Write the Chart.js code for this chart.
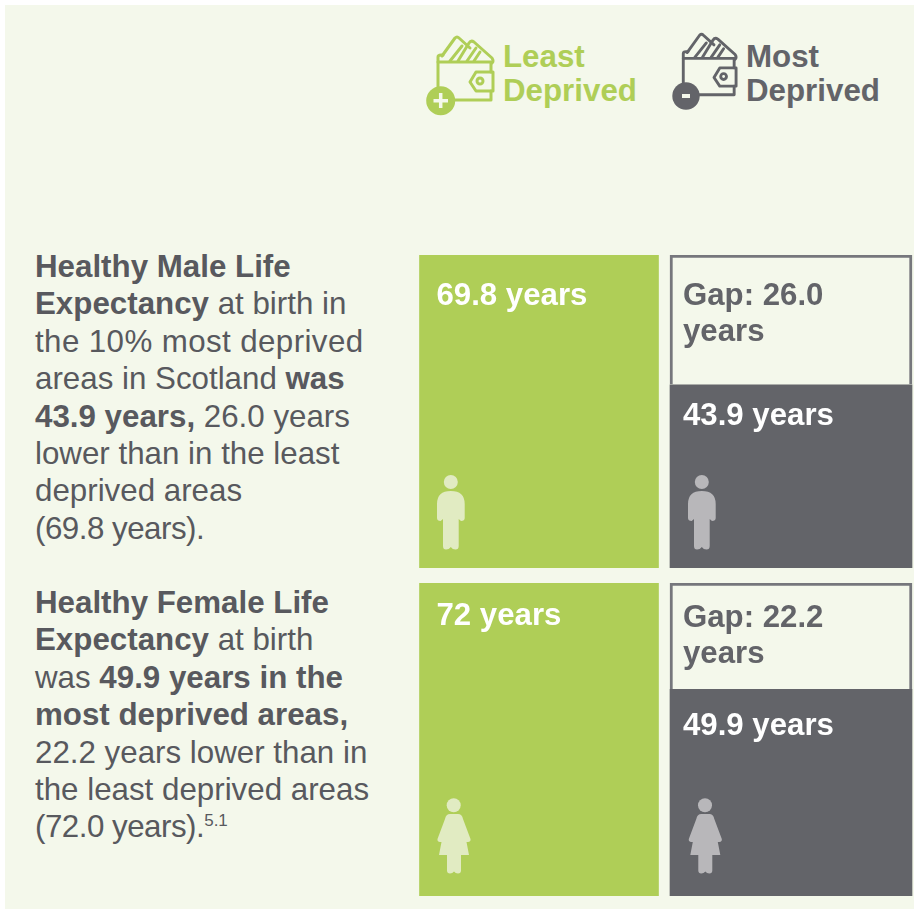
<!DOCTYPE html>
<html lang="en">
<head>
<meta charset="UTF-8">
<title>Healthy Life Expectancy</title>
<script src="https://cdn.jsdelivr.net/npm/chart.js@4"></script>
<style>
    html, body { margin: 0; padding: 0; background: #fff; }
    #page { position: relative; width: 914px; height: 909px; overflow: hidden; font-family: "Liberation Sans", sans-serif; }
    #panel { position: absolute; left: 5px; top: 5px; right: 0; bottom: 0; background: #f4f8eb; }
    .row { position: absolute; left: 413px; width: 504px; height: 313px; }
    .para { position: absolute; left: 35px; font-size: 31.3px; line-height: 37.4px; color: #58595e; white-space: nowrap; }
    .para sup { font-size: 17px; line-height: 0; }
    .wide { letter-spacing: .4px; }
    .tight { letter-spacing: -.5px; }
    .legend { position: absolute; font-size: 31.3px; line-height: 34px; font-weight: bold; }
    #icons { position: absolute; left: 0; top: 0; pointer-events: none; }
</style>
</head>
<body>
<div id="page">
    <div id="panel"></div>

    <div class="legend" style="left:503px; top:40px; color:#afce57;">Least<br>Deprived</div>
    <div class="legend" style="left:746px; top:40px; color:#636469;">Most<br>Deprived</div>

    <div class="para" style="top:248px;"><b>Healthy Male Life</b><br><b>Expectancy</b> at birth in<br><span class="wide">the 10% most deprived</span><br>areas in Scotland <b>was</b><br><b>43.9 years,</b> 26.0 years<br>lower than in the least<br>deprived areas<br><span class="tight">(69.8 years).</span></div>
    <div class="para" style="top:584px;"><b>Healthy Female Life</b><br><b>Expectancy</b> at birth<br>was <b>49.9 years in the</b><br><b>most deprived areas,</b><br>22.2 years lower than in<br>the least deprived areas<br><span class="tight">(72.0 years).</span><sup>5.1</sup></div>

    <div class="row" style="top:255px;"><canvas id="maleChart" width="504" height="313"></canvas></div>
    <div class="row" style="top:583px;"><canvas id="femaleChart" width="504" height="313"></canvas></div>

    <svg id="icons" width="914" height="909" viewBox="0 0 914 909">
        <defs>
            <g id="wallet" fill="none" stroke-width="3" stroke-linejoin="round" stroke-linecap="round">
                <path d="M18 42 V37 Q18 35 21 35 H23"/>
                <path d="M22 36 L35 18 Q37 16 39 18 L50 28"/>
                <path d="M38 41 L49 23 Q51 20 54 22 L72 38 Q74 41 72 43"/>
                <path d="M30 41 L42 26 M47 41 L56 28 M54 41 L60 32"/>
                <path d="M18 42 H71 V52 M71 71 V80 H18 V42"/>
                <path d="M56 52 H73 V71 H56 L50 62 Z"/>
                <circle cx="60" cy="61" r="3"/>
            </g>
            <g id="man">
                <circle cx="13.8" cy="7" r="7"/>
                <path d="M0 29 Q0 16 13.8 16 Q27.7 16 27.7 29 V43 Q27.7 46 24 46 L21.7 44 V71 Q21.7 74.5 18.5 74.5 Q15.5 74.5 13.8 72 Q12 74.5 9 74.5 Q6 74.5 6 71 V44 L3.7 46 Q0 46 0 43 Z"/>
            </g>
            <g id="woman">
                <circle cx="16.7" cy="7.3" r="7"/>
                <path d="M8 21 Q9 16 13 16 H21 Q25 16 26 21 L33.5 41 Q34 43.5 31 44 L29.5 44 L32 57 H24 V72.5 Q24 75.5 21 75.5 Q18.5 75.5 17 73.5 Q15.5 75.5 13 75.5 Q10 75.5 10 72.5 V57 H2 L4.5 44 L3 44 Q0 43.5 .5 41 Z"/>
            </g>
        </defs>
        <use href="#wallet" x="420" y="20" stroke="#afce57"/>
        <circle cx="440.7" cy="100.7" r="14.5" fill="#afce57"/>
        <path d="M440.7 93 V108 M433.5 100.7 H448" stroke="#f4f8eb" stroke-width="3.5"/>
        <use href="#wallet" transform="translate(666,18) scale(.96)" stroke="#636469"/>
        <circle cx="686" cy="96" r="13.7" fill="#636469"/>
        <path d="M682 96 H690" stroke="#f4f8eb" stroke-width="4"/>
        <use href="#man" x="437" y="475" fill="#e1ebc2"/>
        <use href="#man" x="688" y="475" fill="#b8b7ba"/>
        <use href="#woman" x="437" y="798" fill="#e1ebc2"/>
        <use href="#woman" x="688.3" y="798" fill="#b8b7ba"/>
    </svg>
</div>

<script>
    const categories = ['Least Deprived', 'Most Deprived'];

    const maleLeast = [69.8, null];
    const maleMost = [null, 43.9];
    const maleGap = [null, 26.0];

    const femaleLeast = [72.0, null];
    const femaleMost = [null, 49.9];
    const femaleGap = [null, 22.2];

    const maleLeastLabel = ['69.8 years'];
    const maleMostLabel = ['43.9 years'];
    const maleGapLabel = ['Gap: 26.0', 'years'];

    const femaleLeastLabel = ['72 years'];
    const femaleMostLabel = ['49.9 years'];
    const femaleGapLabel = ['Gap: 22.2', 'years'];

    const green = '#afce57';
    const dark = '#636469';
    const pale = '#f4f8eb';

    // writes each dataset's lines at the top left of its own bar
    const barText = {
        id: 'barText',
        afterDatasetsDraw(chart) {
            const ctx = chart.ctx;
            ctx.save();
            ctx.font = 'bold 31.2px "Liberation Sans"';
            ctx.textBaseline = 'alphabetic';
            chart.data.datasets.forEach((ds, i) => {
                chart.getDatasetMeta(i).data.forEach((bar, j) => {
                    if (ds.data[j] === null) return;
                    const left = bar.x - bar.width / 2;
                    ctx.fillStyle = ds.textColor;
                    ds.lines.forEach((line, n) => {
                        ctx.fillText(line, left + ds.textLeft, bar.y + ds.textTop + n * 36);
                    });
                });
            });
            ctx.restore();
        }
    };

    function makeRow(id, least, most, gap, leastLabel, mostLabel, gapLabel, gapWeight, mostWeight, textTops) {
        const hidden = { display: false, min: 0, grid: { display: false } };
        return new Chart(document.getElementById(id), {
            type: 'bar',
            data: {
                labels: categories,
                datasets: [
                    { label: 'Least deprived', data: least, yAxisID: 'yLeast', backgroundColor: green, barThickness: 239,
                      lines: leastLabel, textColor: '#ffffff', textLeft: 17, textTop: textTops[0] },
                    { label: 'Most deprived', data: most, yAxisID: 'yMost', backgroundColor: dark, barThickness: 242,
                      lines: mostLabel, textColor: '#ffffff', textLeft: 13, textTop: textTops[1] },
                    { label: 'Gap', data: gap, yAxisID: 'yGap', backgroundColor: pale, borderColor: '#76777c', borderWidth: 3, borderSkipped: 'bottom',
                      barThickness: 242, lines: gapLabel, textColor: dark, textLeft: 13, textTop: textTops[2] }
                ]
            },
            options: {
                responsive: false,
                animation: false,
                layout: { padding: 0 },
                datasets: { bar: { grouped: false } },
                plugins: { legend: { display: false }, tooltip: { enabled: false }, title: { display: false } },
                scales: {
                    x: { display: false, grid: { display: false } },
                    yLeast: { ...hidden, max: least[0], position: 'left' },
                    // the gap box and the dark bar each fill their own part of the column
                    yGap: { ...hidden, max: gap[1], position: 'right', stack: 'most', stackWeight: gapWeight },
                    yMost: { ...hidden, max: most[1], position: 'right', stack: 'most', stackWeight: mostWeight }
                }
            },
            plugins: [barText]
        });
    }

    makeRow('maleChart', maleLeast, maleMost, maleGap, maleLeastLabel, maleMostLabel, maleGapLabel, 129, 183, [50, 41, 50]);
    makeRow('femaleChart', femaleLeast, femaleMost, femaleGap, femaleLeastLabel, femaleMostLabel, femaleGapLabel, 106, 207, [42, 46, 44]);
</script>
</body>
</html>
